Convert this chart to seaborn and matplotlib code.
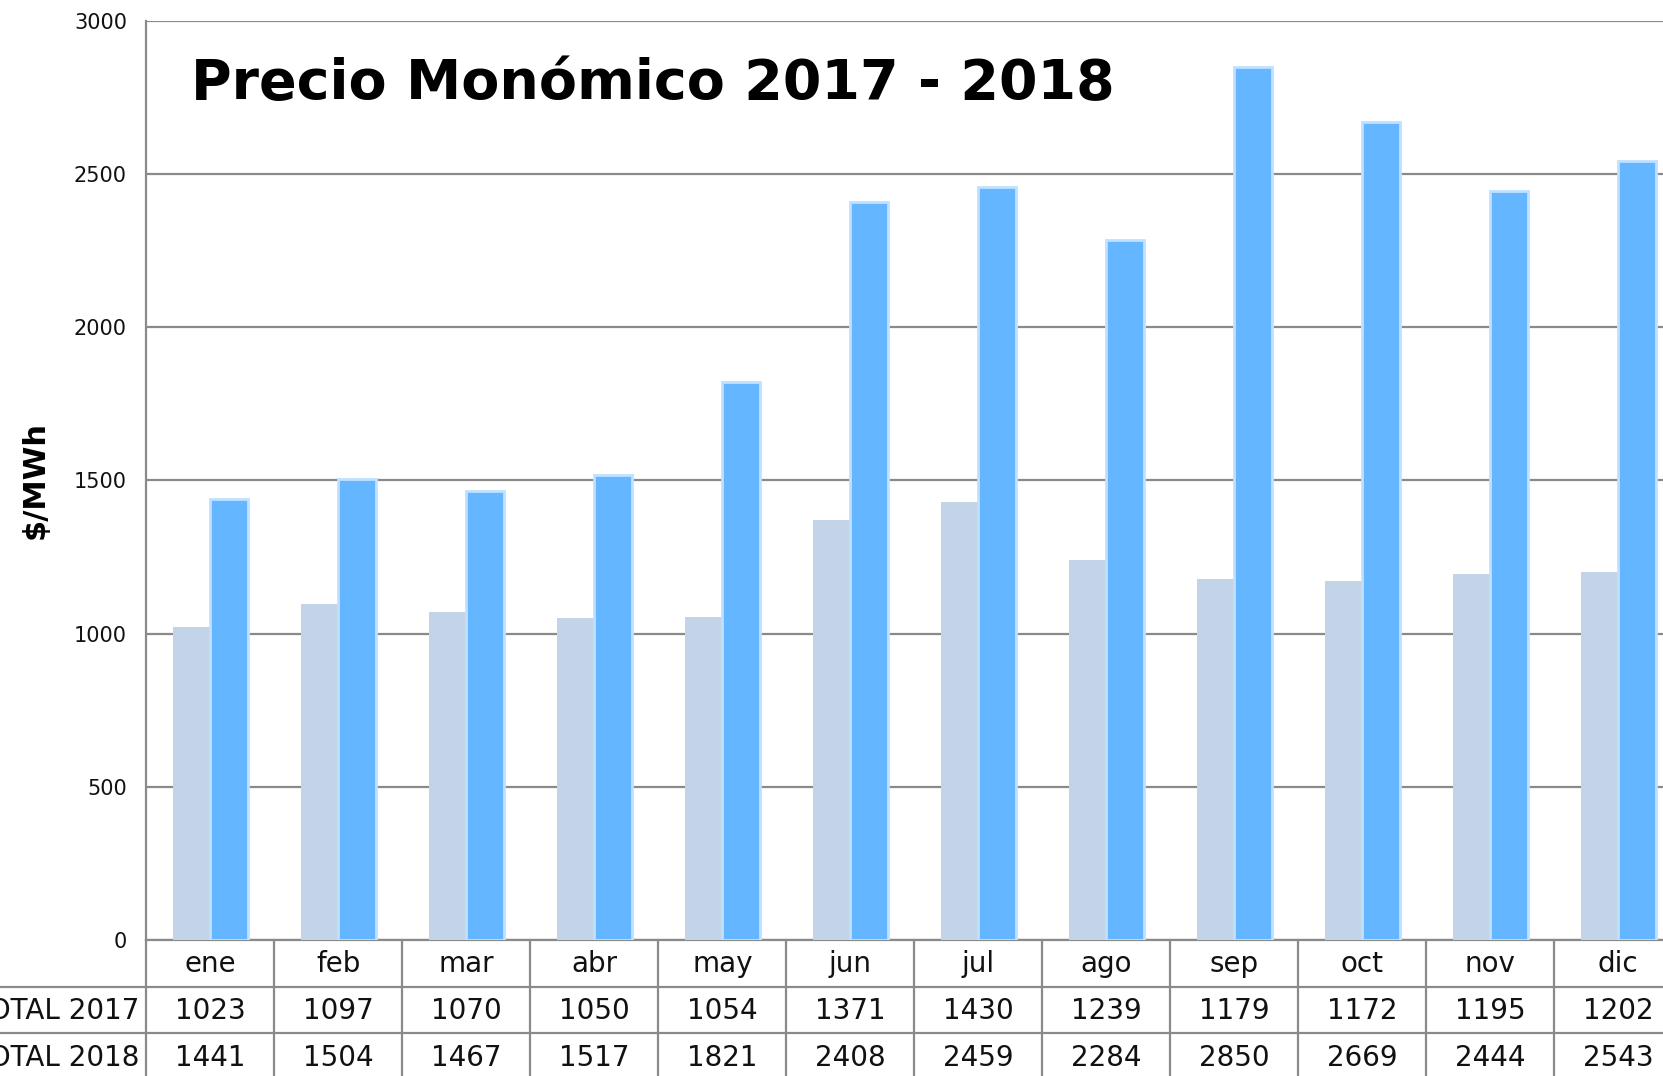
import matplotlib
matplotlib.use("Agg")
import matplotlib.pyplot as plt
import seaborn as sns
import pandas as pd

# data
months = ["ene", "feb", "mar", "abr", "may", "jun", "jul", "ago", "sep", "oct", "nov", "dic"]
total_2017 = [1023, 1097, 1070, 1050, 1054, 1371, 1430, 1239, 1179, 1172, 1195, 1202]
total_2018 = [1441, 1504, 1467, 1517, 1821, 2408, 2459, 2284, 2850, 2669, 2444, 2543]
series_names = ["TOTAL 2017", "TOTAL 2018"]
yticks = [0, 500, 1000, 1500, 2000, 2500, 3000]

df = pd.DataFrame({
    "mes": months * 2,
    "serie": [series_names[0]] * 12 + [series_names[1]] * 12,
    "valor": total_2017 + total_2018,
})

sns.set_style("white")
plt.rcParams["font.family"] = ["DejaVu Sans"]

grid_c = "#8a8a8a"
txt_c = "#111111"
fig = plt.figure(figsize=(16.63, 10.76), dpi=100)
ax = fig.add_axes([0.088, 0.1264, 0.9236, 0.8541])

sns.barplot(data=df, x="mes", y="valor", hue="serie", order=months,
            hue_order=series_names, palette=["#c3d3e8", "#63b6ff"],
            saturation=1, width=0.59, gap=0, legend=False, ax=ax, zorder=3)

n = len(months)
for i, p in enumerate(ax.patches[:2 * n]):
    if i >= n:
        p.set_edgecolor("#bfe1ff")
        p.set_linewidth(2)
    else:
        p.set_edgecolor("none")

ax.set_ylim(0, 3000)
ax.set_xlim(-0.5, n - 0.5)
ax.set_yticks(yticks)
ax.set_yticklabels([str(t) for t in yticks], fontsize=15, color=txt_c)
ax.tick_params(axis="y", length=0, pad=14)
ax.set_xticks([])
ax.set_xlabel("")
ax.set_ylabel("$/MWh", fontsize=22, fontweight="bold", color="black")
ax.yaxis.set_label_coords(-0.063, 0.5)
ax.yaxis.grid(True, color=grid_c, linewidth=1.6, zorder=0)
ax.set_axisbelow(True)
for s in ["top", "right"]:
    ax.spines[s].set_visible(False)
ax.spines["left"].set_color(grid_c)
ax.spines["left"].set_linewidth(1.6)
ax.spines["bottom"].set_color(grid_c)
ax.spines["bottom"].set_linewidth(1.6)

# title
fig.text(0.115, 0.908, "Precio Monómico 2017 - 2018", fontsize=40,
         fontweight="bold", ha="left", va="baseline", color="black")

# data table under the plot
tr = ax.get_xaxis_transform()
row_h = 0.0508
for k in range(n + 1):
    ax.plot([k - 0.5, k - 0.5], [0, -3 * row_h], transform=tr,
            color=grid_c, linewidth=1.6, clip_on=False)
for r in [1, 2]:
    ax.plot([-2, n], [-r * row_h, -r * row_h], transform=tr,
            color=grid_c, linewidth=1.6, clip_on=False)
for i, m in enumerate(months):
    ax.text(i, -0.52 * row_h, m, transform=tr, ha="center", va="center",
            fontsize=20, color=txt_c)
    ax.text(i, -1.52 * row_h, str(total_2017[i]), transform=tr, ha="center",
            va="center", fontsize=20, color=txt_c)
    ax.text(i, -2.52 * row_h, str(total_2018[i]), transform=tr, ha="center",
            va="center", fontsize=20, color=txt_c)
for r, name in enumerate(series_names):
    ax.text(-0.555, -(r + 1.52) * row_h, name, transform=tr, ha="right",
            va="center", fontsize=20, color=txt_c)

fig.savefig("out.png", dpi=100)
